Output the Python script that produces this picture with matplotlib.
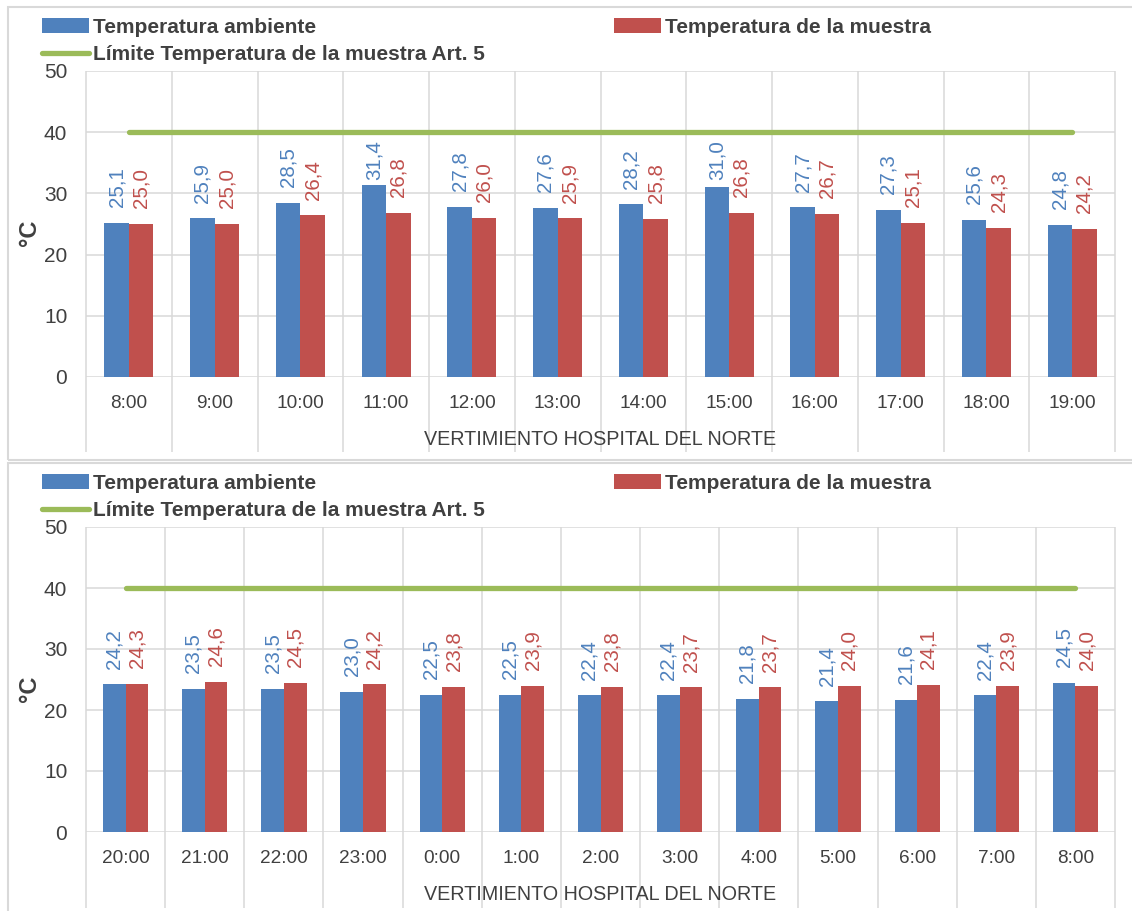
import numpy as np
import matplotlib
matplotlib.use('Agg')
import matplotlib.pyplot as plt
from matplotlib.patches import Rectangle

plt.rcParams['font.family'] = ['Liberation Sans', 'DejaVu Sans']

# datos
horas_dia = ['8:00', '9:00', '10:00', '11:00', '12:00', '13:00', '14:00',
             '15:00', '16:00', '17:00', '18:00', '19:00']
amb_dia = [25.1, 25.9, 28.5, 31.4, 27.8, 27.6, 28.2, 31.0, 27.7, 27.3, 25.6, 24.8]
mue_dia = [25.0, 25.0, 26.4, 26.8, 26.0, 25.9, 25.8, 26.8, 26.7, 25.1, 24.3, 24.2]

horas_noche = ['20:00', '21:00', '22:00', '23:00', '0:00', '1:00', '2:00',
               '3:00', '4:00', '5:00', '6:00', '7:00', '8:00']
amb_noche = [24.2, 23.5, 23.5, 23.0, 22.5, 22.5, 22.4, 22.4, 21.8, 21.4, 21.6, 22.4, 24.5]
mue_noche = [24.3, 24.6, 24.5, 24.2, 23.8, 23.9, 23.8, 23.7, 23.7, 24.0, 24.1, 23.9, 24.0]

limite = 40
xlabel = 'VERTIMIENTO HOSPITAL DEL NORTE'

BLUE = '#4F81BD'
RED = '#C0504D'
GREEN = '#9BBB59'
GRID = '#D9D9D9'
TXT = '#404040'

W, H = 1132, 911
fig = plt.figure(figsize=(W/100, H/100), dpi=100)


def fx(x):
    return x/W


def fy(y):
    return 1 - y/H


def panel(horas, amb, mue, y50, y0, ybox0, ybox1, ylow):
    # marco del panel
    fig.patches.append(Rectangle((fx(8), fy(ybox1)), fx(1200), fy(ybox0)-fy(ybox1),
                                 transform=fig.transFigure, fill=False,
                                 edgecolor=GRID, lw=1.5))
    ax = fig.add_axes([fx(86), fy(y0), fx(1115-86), fy(y50)-fy(y0)])
    n = len(horas)
    x = np.arange(n)
    w = 1/3.5
    b1 = ax.bar(x - w/2, amb, w, color=BLUE, zorder=2)
    b2 = ax.bar(x + w/2, mue, w, color=RED, zorder=2)
    ln, = ax.plot(x, [limite]*n, color=GREEN, lw=3.8, solid_capstyle='round', zorder=3)
    for xi, a, m in zip(x, amb, mue):
        ax.text(xi - w/2, min(a + 2.6, 32.2), f'{a:.1f}'.replace('.', ','), rotation=90,
                ha='center', va='bottom', color=BLUE, fontsize=14.8)
        ax.text(xi + w/2, min(m + 2.6, 32.2), f'{m:.1f}'.replace('.', ','), rotation=90,
                ha='center', va='bottom', color=RED, fontsize=14.8)
    ax.set_xlim(-0.5, n - 0.5)
    ax.set_ylim(0, 50)
    ax.set_yticks(range(0, 51, 10))
    ax.set_xticks(x)
    ax.set_xticklabels(horas)
    ax.yaxis.grid(True, color=GRID, lw=1.1, zorder=0)
    ax.set_axisbelow(True)
    ax.vlines(np.arange(n + 1) - 0.5, ylow, 1, transform=ax.get_xaxis_transform(),
              clip_on=False, color=GRID, lw=1.1, zorder=0)
    for s in ax.spines.values():
        s.set_visible(False)
    ax.tick_params(axis='x', length=0, pad=13, labelsize=13.7, labelcolor=TXT)
    ax.tick_params(axis='y', length=0, pad=13.5, labelsize=15, labelcolor=TXT)
    ax.set_xlabel(xlabel, fontsize=14.2, color=TXT, labelpad=13)
    ax.set_ylabel('°C', fontsize=17, fontweight='bold', color=TXT)
    ax.yaxis.set_label_coords(-0.044, 0.47)
    ax.legend([b1, ln, b2],
              ['Temperatura ambiente', 'Límite Temperatura de la muestra Art. 5',
               'Temperatura de la muestra'],
              ncol=2, loc='upper left', bbox_to_anchor=(fx(42), fy(ybox0 + 11)),
              bbox_transform=fig.transFigure, frameon=False,
              prop={'weight': 'bold', 'size': 15}, labelcolor=TXT,
              handlelength=2.25, handletextpad=0.2, columnspacing=6.2,
              labelspacing=0.4, borderpad=0, borderaxespad=0)
    return ax


panel(horas_dia, amb_dia, mue_dia, 71, 377, 7, 460, -0.245)
panel(horas_noche, amb_noche, mue_noche, 527, 832, 463, 930, -0.249)

fig.savefig('out.png', dpi=100)
